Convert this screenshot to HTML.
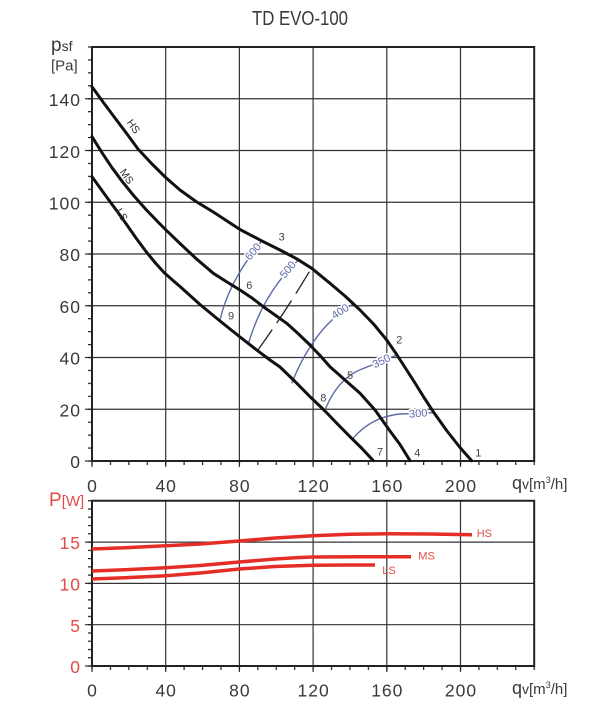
<!DOCTYPE html>
<html><head><meta charset="utf-8"><style>
html,body{margin:0;padding:0;background:#fff;}
svg{display:block;}
text{font-family:"Liberation Sans",sans-serif;}
</style></head><body>
<svg width="607" height="710" viewBox="0 0 607 710" xmlns="http://www.w3.org/2000/svg">
<defs>
<pattern id="tx" x="91.4" y="0" width="18.425" height="20" patternUnits="userSpaceOnUse"><rect x="0" y="0" width="1.2" height="20" fill="#222"/></pattern>
<pattern id="ty" x="0" y="46.4" width="20" height="12.9375" patternUnits="userSpaceOnUse"><rect x="0" y="0" width="20" height="1.2" fill="#222"/></pattern>
<pattern id="ty2" x="0" y="500.15" width="20" height="8.2625" patternUnits="userSpaceOnUse"><rect x="0" y="0" width="20" height="1.2" fill="#222"/></pattern>
</defs>
<rect width="607" height="710" fill="#fff"/>

<!-- Title -->
<text x="300" y="25" font-size="20" fill="#3a3a3a" text-anchor="middle" textLength="96" lengthAdjust="spacingAndGlyphs">TD EVO-100</text>

<!-- Top chart grid -->
<g stroke="#333" stroke-width="1.2" fill="none">
<line x1="165.7" y1="47" x2="165.7" y2="467"/>
<line x1="239.4" y1="47" x2="239.4" y2="467"/>
<line x1="313.1" y1="47" x2="313.1" y2="467"/>
<line x1="386.8" y1="47" x2="386.8" y2="467"/>
<line x1="460.5" y1="47" x2="460.5" y2="467"/>
<line x1="92" y1="461" x2="92" y2="467"/>
<line x1="85" y1="98.75" x2="534.2" y2="98.75"/>
<line x1="85" y1="150.5" x2="534.2" y2="150.5"/>
<line x1="85" y1="202.25" x2="534.2" y2="202.25"/>
<line x1="85" y1="254" x2="534.2" y2="254"/>
<line x1="85" y1="305.75" x2="534.2" y2="305.75"/>
<line x1="85" y1="357.5" x2="534.2" y2="357.5"/>
<line x1="85" y1="409.25" x2="534.2" y2="409.25"/>
<line x1="85" y1="461" x2="92" y2="461"/>
</g>
<rect x="91" y="461" width="445" height="4" fill="url(#tx)"/>
<rect x="88" y="46" width="4" height="416" fill="url(#ty)"/>
<rect x="92" y="47" width="442.2" height="414" fill="none" stroke="#222" stroke-width="2"/>

<!-- Top y labels -->
<g font-size="17.5" fill="#3a3a3a" text-anchor="end" letter-spacing="1">
<text x="81" y="106">140</text>
<text x="81" y="158">120</text>
<text x="81" y="209.5">100</text>
<text x="81" y="261">80</text>
<text x="81" y="313">60</text>
<text x="81" y="364.5">40</text>
<text x="81" y="416.5">20</text>
<text x="81" y="468">0</text>
</g>
<text x="51" y="51" font-size="19" fill="#3a3a3a">p<tspan font-size="14">sf</tspan></text>
<text x="51" y="70.5" font-size="15" fill="#3a3a3a">[Pa]</text>

<!-- Top x labels -->
<g font-size="17.5" fill="#3a3a3a" text-anchor="middle" letter-spacing="1">
<text x="92.5" y="492">0</text>
<text x="166.2" y="492">40</text>
<text x="239.9" y="492">80</text>
<text x="313.6" y="492">120</text>
<text x="387.3" y="492">160</text>
<text x="461" y="492">200</text>
</g>
<text x="512" y="489" font-size="18" fill="#3a3a3a">q<tspan font-size="14">v</tspan><tspan font-size="15">[m</tspan><tspan font-size="9" dy="-6">3</tspan><tspan font-size="15" dy="6">/h]</tspan></text>

<!-- Blue iso lines -->
<g stroke="#5b6aa8" stroke-width="1.4" fill="none">
<path d="M220,320 Q229,281 261.7,241"/>
<path d="M248.3,344 Q263,293.5 298.3,260"/>
<path d="M291.7,383.3 Q314.4,326.4 353.3,304"/>
<path d="M325,410 Q338,378 362,369 L396.7,355"/>
<path d="M351.7,440 Q370,417 400,414 L433.3,412.7"/>
</g>
<path d="M256.7,351.7 Q284,314 309.3,271.7" stroke="#222" stroke-width="1.3" fill="none" stroke-dasharray="27 8"/>

<!-- Black curves -->
<g stroke="#111" stroke-width="3" fill="none" stroke-linejoin="round" stroke-linecap="round">
<polyline points="92,86.7 103,102 115,118 127,134 138,149 152,164 165.7,177.5 180,190 196,201.5 213.3,212 227,221 240,229.5 252,235.8 263.3,241.7 280,250 296.7,258.8 311.7,268.3 330,283.3 345,296 360,310 374,324.5 386.7,340 396.7,354.5 406,369 415,383 424,397.5 433.3,411.7 447,431 460,447.5 471.7,460.7"/>
<polyline points="92,136.7 102,152.7 112,167.7 122,181.2 134,196 146,209.5 158,222 166,230 180,243.5 196,258.5 213.3,273.3 227,282 240,290 252,298 263.3,306.7 275,315 286.7,323.3 298,333.5 310,345 320,355.5 330,366.7 345,380 360,393.3 375,410 390,431 400,444.5 410,460.7"/>
<polyline points="92,176.7 107,197.5 121.3,217 136,238 146,251.5 155,262.5 164,272.5 173,280.5 180,286.5 200,304.5 220,321 240,337 256.7,350 270,360 280,367 295,381.5 310,396.7 325,411 337,423.5 350,436.7 362,448.5 373.3,460.7"/>
</g>

<!-- Blue labels -->
<g font-size="11" fill="#5b6aa8" text-anchor="middle" dominant-baseline="central" stroke="#fff" stroke-width="3" paint-order="stroke">
<text transform="translate(253.5,252) rotate(-50)">600</text>
<text transform="translate(288.3,270) rotate(-50)">500</text>
<text transform="translate(340.5,312) rotate(-33)">400</text>
<text transform="translate(381.7,361.7) rotate(-26)">350</text>
<text transform="translate(418.3,414) rotate(-5)">300</text>
</g>

<!-- Point numbers -->
<g font-size="11" fill="#444" text-anchor="middle" dominant-baseline="central">
<text x="478.3" y="453.3">1</text>
<text x="399.3" y="340.7">2</text>
<text x="281.7" y="237.3">3</text>
<text x="417.3" y="453.3">4</text>
<text x="350" y="376">5</text>
<text x="249.3" y="286">6</text>
<text x="380" y="452.7">7</text>
<text x="323.3" y="398.3">8</text>
<text x="231" y="316.7">9</text>
</g>

<!-- Curve labels -->
<g font-size="10.5" fill="#333" text-anchor="middle" dominant-baseline="central">
<text transform="translate(133,126.7) rotate(55)">HS</text>
<text transform="translate(126.3,176.7) rotate(55)">MS</text>
<text transform="translate(121.3,215) rotate(58)">LS</text>
</g>

<!-- Lower chart -->
<g stroke="#333" stroke-width="1.2" fill="none">
<line x1="165.7" y1="500.75" x2="165.7" y2="672"/>
<line x1="239.4" y1="500.75" x2="239.4" y2="672"/>
<line x1="313.1" y1="500.75" x2="313.1" y2="672"/>
<line x1="386.8" y1="500.75" x2="386.8" y2="672"/>
<line x1="460.5" y1="500.75" x2="460.5" y2="672"/>
<line x1="92" y1="666" x2="92" y2="672"/>
<line x1="85" y1="542.1" x2="534.2" y2="542.1"/>
<line x1="85" y1="583.4" x2="534.2" y2="583.4"/>
<line x1="85" y1="624.7" x2="534.2" y2="624.7"/>
<line x1="85" y1="666" x2="92" y2="666"/>
</g>
<rect x="91" y="666" width="445" height="4" fill="url(#tx)"/>
<rect x="88" y="500" width="4" height="167" fill="url(#ty2)"/>
<rect x="92" y="500.75" width="442.2" height="165.25" fill="none" stroke="#222" stroke-width="2"/>

<g stroke="#e52d27" stroke-width="3.5" fill="none" stroke-linejoin="round">
<polyline points="92,549 130,547.5 166,545.7 200,544 239.4,541 275,538 313,535.7 350,534.3 387,533.8 430,534 472,534.7"/>
<polyline points="92,571 130,569.5 166,567.7 200,565.5 239.4,562 275,559 300,557.5 313,557 360,556.7 411,556.7"/>
<polyline points="92,579 130,577.5 166,575.7 200,573 239.4,569 275,566.5 313,565.3 350,565 375,565"/>
</g>
<g font-size="11" fill="#e24b46">
<text x="476.7" y="537">HS</text>
<text x="418.3" y="559.3">MS</text>
<text x="382.3" y="574">LS</text>
</g>

<text x="49" y="506" font-size="19" fill="#e24b46">P<tspan font-size="15">[W]</tspan></text>
<g font-size="17.5" fill="#e24b46" text-anchor="end" letter-spacing="1">
<text x="81" y="549">15</text>
<text x="81" y="590.5">10</text>
<text x="81" y="632">5</text>
<text x="81" y="673">0</text>
</g>
<g font-size="17.5" fill="#3a3a3a" text-anchor="middle" letter-spacing="1">
<text x="92.5" y="696.5">0</text>
<text x="166.2" y="696.5">40</text>
<text x="239.9" y="696.5">80</text>
<text x="313.6" y="696.5">120</text>
<text x="387.3" y="696.5">160</text>
<text x="461" y="696.5">200</text>
</g>
<text x="512" y="694" font-size="18" fill="#3a3a3a">q<tspan font-size="14">v</tspan><tspan font-size="15">[m</tspan><tspan font-size="9" dy="-6">3</tspan><tspan font-size="15" dy="6">/h]</tspan></text>
</svg>
</body></html>
